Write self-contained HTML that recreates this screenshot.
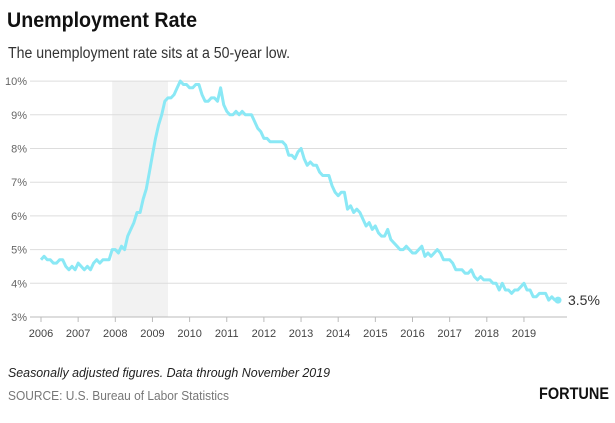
<!DOCTYPE html>
<html><head><meta charset="utf-8"><style>
body{margin:0;background:#fff;width:615px;height:418px;overflow:hidden;font-family:"Liberation Sans",sans-serif}
</style></head><body>
<svg id="chart" width="615" height="418" xmlns="http://www.w3.org/2000/svg">
<text x="7" y="27" font-size="21" font-weight="bold" fill="#111" textLength="190" lengthAdjust="spacingAndGlyphs">Unemployment Rate</text>
<text x="8" y="58" font-size="15.5" fill="#333" textLength="282" lengthAdjust="spacingAndGlyphs">The unemployment rate sits at a 50-year low.</text>
<g id="grid"></g>
<g id="plot"></g>
<text x="8" y="377" font-size="13" font-style="italic" fill="#222" textLength="322" lengthAdjust="spacingAndGlyphs">Seasonally adjusted figures. Data through November 2019</text>
<text x="8" y="400" font-size="13" fill="#777" textLength="221" lengthAdjust="spacingAndGlyphs">SOURCE: U.S. Bureau of Labor Statistics</text>
<text x="609" y="399" font-size="17" font-weight="bold" fill="#111" text-anchor="end" textLength="70" lengthAdjust="spacingAndGlyphs">FORTUNE</text>
</svg>
<script>
const years=[2006,2007,2008,2009,2010,2011,2012,2013,2014,2015,2016,2017,2018,2019];
const yTicks=[3,4,5,6,7,8,9,10];
const recession=[2007+11/12,2009+5/12];
const rates=[
4.7,4.8,4.7,4.7,4.6,4.6,4.7,4.7,4.5,4.4,4.5,4.4,
4.6,4.5,4.4,4.5,4.4,4.6,4.7,4.6,4.7,4.7,4.7,5.0,
5.0,4.9,5.1,5.0,5.4,5.6,5.8,6.1,6.1,6.5,6.8,7.3,
7.8,8.3,8.7,9.0,9.4,9.5,9.5,9.6,9.8,10.0,9.9,9.9,
9.8,9.8,9.9,9.9,9.6,9.4,9.4,9.5,9.5,9.4,9.8,9.3,
9.1,9.0,9.0,9.1,9.0,9.1,9.0,9.0,9.0,8.8,8.6,8.5,
8.3,8.3,8.2,8.2,8.2,8.2,8.2,8.1,7.8,7.8,7.7,7.9,
8.0,7.7,7.5,7.6,7.5,7.5,7.3,7.2,7.2,7.2,6.9,6.7,
6.6,6.7,6.7,6.2,6.3,6.1,6.2,6.1,5.9,5.7,5.8,5.6,
5.7,5.5,5.4,5.4,5.6,5.3,5.2,5.1,5.0,5.0,5.1,5.0,
4.9,4.9,5.0,5.1,4.8,4.9,4.8,4.9,5.0,4.9,4.7,4.7,
4.7,4.6,4.4,4.4,4.4,4.3,4.3,4.4,4.2,4.1,4.2,4.1,
4.1,4.1,4.0,4.0,3.8,4.0,3.8,3.8,3.7,3.8,3.8,3.9,
4.0,3.8,3.8,3.6,3.6,3.7,3.7,3.7,3.5,3.6,3.5,3.5];
const NS="http://www.w3.org/2000/svg";
const x=t=>41+(t-2006)*37.15;
const y=v=>317-(v-3)*33.7;
const grid=document.getElementById('grid'),plot=document.getElementById('plot');
function mk(tag,attrs,parent){const e=document.createElementNS(NS,tag);for(const k in attrs)e.setAttribute(k,attrs[k]);parent.appendChild(e);return e;}
const rec=mk('rect',{x:x(recession[0]),y:y(10),width:x(recession[1])-x(recession[0]),height:y(3)-y(10),fill:'#f2f2f2'},grid);


yTicks.forEach(v=>{
 const l=mk('line',{x1:30,x2:567,y1:y(v),y2:y(v),stroke:v===3?'#bbb':'#ddd','stroke-width':1},grid);
 
 
 const t=mk('text',{x:27,y:y(v)+4,'font-size':11,fill:'#666','text-anchor':'end'},grid);
 t.textContent=v+'%';
 
 
});
years.forEach(yr=>{
 const l=mk('line',{x1:x(yr),x2:x(yr),y1:y(3),y2:y(3)+5,stroke:'#bbb'},grid);
 
 
 const t=mk('text',{x:x(yr),y:337,'font-size':11,fill:'#444','text-anchor':'middle'},grid);
 t.textContent=yr;
 
 
});
const pts=rates.map((v,i)=>x(2006+i/12).toFixed(1)+','+y(v).toFixed(1)).join(' ');
const line=mk('polyline',{points:pts,fill:'none',stroke:'#8ae8f5','stroke-width':3,'stroke-linejoin':'round'},plot);


const li=rates.length-1;
const dot=mk('circle',{cx:x(2006+li/12),cy:y(rates[li]),r:3.5,fill:'#8ae8f5'},plot);


const lab=mk('text',{x:x(2006+li/12)+10,y:y(rates[li])+5,'font-size':14,fill:'#333'},plot);
lab.textContent=rates[li]+'%';


</script>
</body></html>
